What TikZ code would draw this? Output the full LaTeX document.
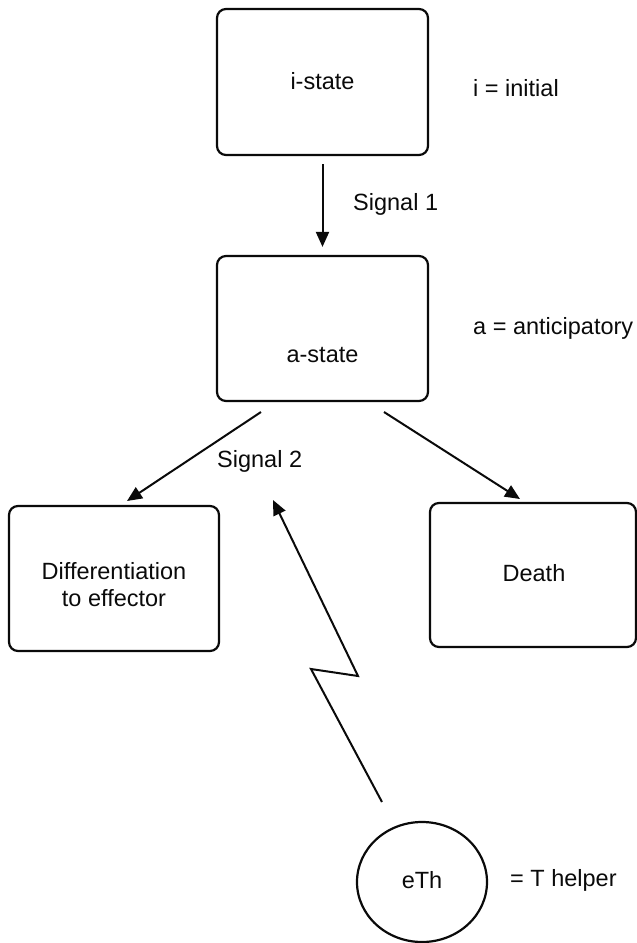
\documentclass[tikz,border=0pt]{standalone}
\usepackage{fontspec}
\setmainfont{Liberation Sans}
\usepackage{xcolor}
\usetikzlibrary{arrows.meta,shapes.geometric}
\definecolor{ink}{HTML}{0A0A0A}
\tikzset{
  box/.style={draw=ink, line width=2.2pt, rounded corners=9pt, minimum width=211pt, minimum height=146pt, inner sep=0pt},
  cell/.style={draw=ink, line width=2.2pt, ellipse, minimum width=130pt, minimum height=120pt, inner sep=0pt},
  arr/.style={draw=ink, line width=2pt, -{Triangle[length=15pt,width=13pt]}},
  lbl/.style={text=ink, font=\fontsize{23.5}{27}\selectfont, inner sep=0pt},
  key/.style={lbl, anchor=west}
}

\begin{document}
\begin{tikzpicture}[x=1pt, y=-1pt]
  \useasboundingbox (0,0) rectangle (637,943);

  \node[box] (istate) at (322.5,82) {};
  \node[box, minimum height=145pt] (astate) at (322.5,328.5) {};
  \node[box, minimum width=210pt, minimum height=145pt] (diff) at (114,578.5) {};
  \node[box, minimum width=206pt, minimum height=144pt] (death) at (533,575) {};
  \node[cell] (eth) at (422,882) {};

  \node[lbl] (itext) at (322.5,81) {i-state};
  \node[lbl] (atext) at (322.5,355) {a-state};
  \node[lbl, align=center] (dtext) at (114,585) {Differentiation\\to effector};
  \node[lbl] (deathtext) at (534,573) {Death};
  \node[lbl] (ethtext) at (422,880) {eTh};

  \node[key] (ikey) at (473,88) {i = initial};
  \node[key] (akey) at (473,328) {a = anticipatory};
  \node[key] (ethkey) at (510,880) {= T helper};
  \node[key] (sig1) at (353,204) {Signal 1};
  \node[key] (sig2) at (217,461) {Signal 2};

  \coordinate (s2l) at (261,412);
  \coordinate (s2r) at (384,412);
  \coordinate (dtip) at (127,501);
  \coordinate (ktip) at (520,499);
  \coordinate (z1) at (382,802);
  \coordinate (z2) at (311,669);
  \coordinate (z3) at (358,676);
  \coordinate (ztip) at (273,500);

  \draw[arr, shorten <=8pt, shorten >=8pt] (istate) -- (astate);
  \draw[arr] (s2l) -- (dtip);
  \draw[arr] (s2r) -- (ktip);
  \draw[arr] (z1) -- (z2) -- (z3) -- (ztip);
\end{tikzpicture}
\end{document}
